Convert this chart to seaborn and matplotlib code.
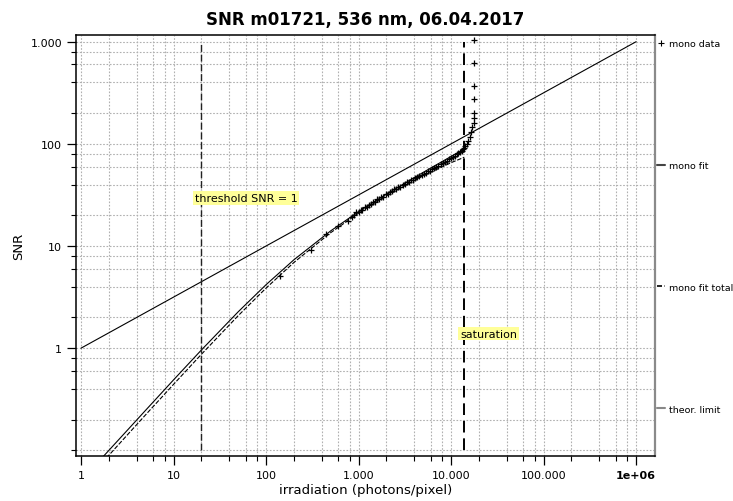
import matplotlib
matplotlib.use("Agg")
import matplotlib.pyplot as plt
from matplotlib.lines import Line2D
from matplotlib.ticker import FixedLocator, FixedFormatter, LogLocator, NullFormatter
import pandas as pd
import seaborn as sns

sns.set_theme(style="ticks")
plt.rcParams["font.family"] = ["DejaVu Sans"]
plt.rcParams.update({"text.color": "black", "axes.labelcolor": "black",
                     "xtick.color": "black", "ytick.color": "black"})

# values: irradiation (photons/pixel) vs SNR
theory_x = [1, 10, 100, 1000, 10000, 100000, 1000000]
theory_snr = [1, 3.16, 10, 31.6, 100, 316, 1000]

fit_x = [1.7, 3, 5, 10, 20, 50, 100, 200, 500, 1000, 2000, 5000, 10000, 13900]
fit_snr = [0.085, 0.149, 0.247, 0.489, 0.959, 2.27, 4.18, 7.33, 14.07, 21.7, 32.2, 52.6, 75.3, 89.0]
fit_total_snr = [0.076, 0.134, 0.223, 0.442, 0.870, 2.08, 3.87, 6.90, 13.51, 20.97, 30.98, 48.75, 65.4, 74.0]

data_x = [141, 304, 446, 602, 766, 850, 900, 950, 1000, 1050, 1100, 1160, 1220, 1290, 1360,
          1430, 1510, 1590, 1680, 1770, 1860, 1960, 2070, 2180, 2300, 2420, 2550, 2690, 2830,
          2990, 3150, 3320, 3500, 3690, 3890, 4100, 4320, 4550, 4800, 5060, 5330, 5620, 5920,
          6240, 6580, 6930, 7300, 7700, 8110, 8550, 9010, 9490, 10000, 10500, 11000, 11500,
          12000, 12500, 13000, 13400, 13800, 14200, 14700, 15300, 16000, 16500, 17000,
          17500, 17500, 17500, 17500, 17500, 17500, 17500]
data_snr = [5.1, 9.2, 13.1, 15.6, 17.7, 19.3, 20.0, 21.3, 21.4, 22.6, 22.5, 23.9, 24.0, 25.3, 25.6,
            26.9, 27.1, 28.6, 28.8, 30.3, 30.5, 32.1, 32.3, 33.9, 34.2, 35.9, 36.1, 37.8, 38.2,
            39.8, 40.3, 41.9, 42.5, 44.0, 44.6, 46.2, 47.0, 48.6, 49.5, 51.2, 52.0, 53.9, 54.8,
            56.9, 57.8, 60.0, 61.2, 63.5, 64.6, 67.0, 68.4, 70.8, 72.6, 75.0, 76.9, 79.2,
            81.0, 83.1, 86.0, 88.5, 91.5, 95.0, 99.5, 106, 118, 132, 146,
            160, 180, 201, 272, 368, 625, 1050]

threshold_x = 20
saturation_x = 13900

x_ticks = [1, 10, 100, 1000, 10000, 100000, 1000000]
x_tick_labels = ["1", "10", "100", "1.000", "10.000", "100.000", "1e+06"]
y_ticks = [1, 10, 100, 1000]
y_tick_labels = ["1", "10", "100", "1.000"]

legend_labels = ["mono data", "mono fit", "mono fit total", "theor. limit"]

fig = plt.figure(figsize=(7.33, 5.02), dpi=100)
ax = fig.add_axes([76 / 733, 1 - 457 / 502, (655 - 76) / 733, (457 - 36) / 502])
ax.set_xscale("log")
ax.set_yscale("log")
ax.set_xlim(0.883, 1.6e6)
ax.set_ylim(0.088, 1163)

grid_kw = dict(color="#b0b0b0", linestyle=(0, (1.5, 1.5)), linewidth=0.8)
ax.grid(True, which="both", **grid_kw)
ax.set_axisbelow(True)

theory = pd.DataFrame({"x": theory_x, "snr": theory_snr})
fit = pd.DataFrame({"x": fit_x, "snr": fit_snr, "total": fit_total_snr})
data = pd.DataFrame({"x": data_x, "snr": data_snr})

sns.lineplot(data=theory, x="x", y="snr", ax=ax, color="black", linewidth=0.8,
             estimator=None, sort=False)
sns.lineplot(data=fit, x="x", y="snr", ax=ax, color="black", linewidth=0.8,
             estimator=None, sort=False)
sns.lineplot(data=fit, x="x", y="total", ax=ax, color="black", linewidth=0.8,
             linestyle=(0, (4, 1.5)), estimator=None, sort=False)
sns.scatterplot(data=data, x="x", y="snr", ax=ax, marker="+", color="black", s=20,
                linewidth=0.9, zorder=4)

ax.vlines(threshold_x, 0.1, 1000, colors="#222222", linewidth=1.0, linestyles=[(0, (5, 2))])
ax.vlines(saturation_x, 0.1, 1000, colors="black", linewidth=1.4, linestyles=[(0, (6, 3))])

box = dict(boxstyle="square,pad=0.15", facecolor="#ffff99", edgecolor="none")
ax.text(17, 29.5, "threshold SNR = 1", fontsize=8, va="center", ha="left", bbox=box)
ax.text(12500, 1.39, "saturation", fontsize=8, va="center", ha="left", bbox=box)

ax.xaxis.set_major_locator(FixedLocator(x_ticks))
ax.xaxis.set_major_formatter(FixedFormatter(x_tick_labels))
ax.xaxis.set_minor_locator(LogLocator(base=10, subs=(1.0, 2, 4, 6, 8), numticks=20))
ax.xaxis.set_minor_formatter(NullFormatter())
ax.yaxis.set_major_locator(FixedLocator(y_ticks))
ax.yaxis.set_major_formatter(FixedFormatter(y_tick_labels))
ax.yaxis.set_minor_locator(LogLocator(base=10, subs=(1.0, 2, 4, 6, 8), numticks=20))
ax.yaxis.set_minor_formatter(NullFormatter())
ax.tick_params(which="major", direction="out", length=6.5, width=0.9, labelsize=8, color="black")
ax.tick_params(which="minor", direction="out", length=3.5, width=0.8, color="black")
ax.get_xticklabels()[-1].set_fontweight("bold")

for side in ["left", "bottom", "top"]:
    ax.spines[side].set_color("black")
    ax.spines[side].set_linewidth(1.1)
ax.spines["right"].set_color("#8a8a8a")
ax.spines["right"].set_linewidth(1.6)

ax.set_xlabel("irradiation (photons/pixel)", fontsize=9.5, labelpad=2)
ax.set_ylabel("SNR", fontsize=9.5, labelpad=4)
ax.set_title("SNR m01721, 536 nm, 06.04.2017", fontsize=12, fontweight="bold", pad=8)

handles = [
    Line2D([], [], marker="+", linestyle="none", color="black", markersize=5, markeredgewidth=0.8),
    Line2D([], [], color="#444444", linewidth=1.5),
    Line2D([], [], color="black", linewidth=1.2, linestyle=(0, (3, 1.5, 1, 1.5))),
    Line2D([], [], color="#888888", linewidth=1.5),
]
ax.legend(handles, legend_labels, loc="upper left", bbox_to_anchor=(1.0, 0.995), frameon=False,
          fontsize=6.8, handlelength=0.9, handletextpad=0.35, labelspacing=11.95,
          borderaxespad=0.1, borderpad=0.1)

fig.savefig("out.png", dpi=100)
